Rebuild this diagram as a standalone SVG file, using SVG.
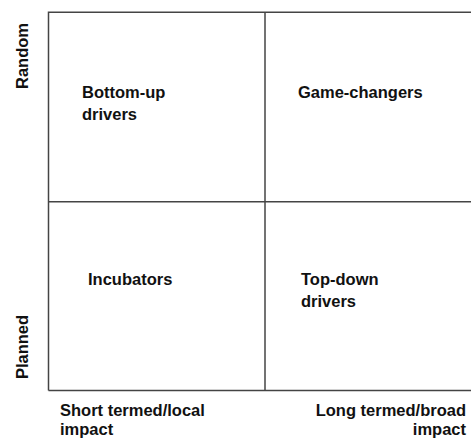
<svg xmlns="http://www.w3.org/2000/svg" width="471" height="439" viewBox="0 0 471 439">
<style>
.grid{stroke:#444;stroke-width:1.5;fill:none}
.t{font-family:"Liberation Sans",Arial,sans-serif;font-weight:bold;font-size:16.5px;fill:#111}
</style>
<rect width="471" height="439" fill="#fff"/>
<g id="connectors">
<path class="grid" d="M48.5,390.5 V12.3 H471"/>
<path class="grid" d="M48.5,390.5 H471"/>
<path class="grid" d="M48.5,201.7 H471"/>
<path class="grid" d="M265,12.3 V390.5"/>
</g>
<g id="axis-random"><text class="t" transform="translate(28,56) rotate(-90)" text-anchor="middle">Random</text></g>
<g id="axis-planned"><text class="t" transform="translate(28,347) rotate(-90)" text-anchor="middle">Planned</text></g>
<g id="bottom-up"><text class="t" x="82" y="98">Bottom-up</text><text class="t" x="82" y="120">drivers</text></g>
<g id="game-changers"><text class="t" x="298" y="98">Game-changers</text></g>
<g id="incubators"><text class="t" x="88" y="284.5">Incubators</text></g>
<g id="top-down"><text class="t" x="301" y="284.5">Top-down</text><text class="t" x="301" y="307">drivers</text></g>
<g id="axis-short"><text class="t" x="60" y="416">Short termed/local</text><text class="t" x="60" y="434.5">impact</text></g>
<g id="axis-long"><text class="t" x="466" y="416" text-anchor="end">Long termed/broad</text><text class="t" x="466" y="434.5" text-anchor="end">impact</text></g>
</svg>
